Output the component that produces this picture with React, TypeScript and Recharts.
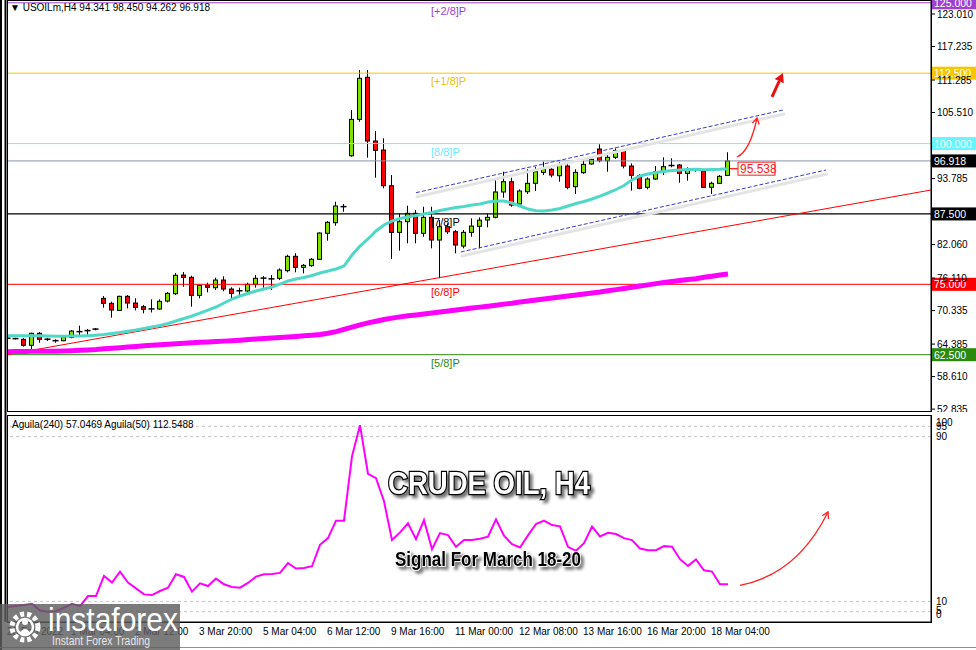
import React from 'react';
import { ComposedChart, Bar, Line, XAxis, YAxis, ReferenceLine } from 'recharts';

// USOILm H4, 91 bars (oldest first)
const opens = [
  65.42, 65.36, 65.23, 64.17, 66.3, 65.25, 64.99, 64.98, 65.58, 66.55,
  66.72, 66.95, 72.51, 71.62, 70.37, 72.87, 71.67, 71.02, 70.58, 70.61,
  72.03, 73.33, 76.65, 76.24, 73.04, 74.82, 74.4, 75.76, 74.16, 73.85,
  73.81, 75.0, 76.02, 75.92, 76.07, 77.42, 79.97, 78.02, 78.31, 79.44,
  84.06, 85.94, 88.75, 97.83, 104.3, 111.77, 100.45, 98.85, 92.51, 84.23,
  86.12, 87.61, 84.06, 86.9, 82.87, 85.23, 84.34, 81.8, 84.23, 85.3,
  86.42, 86.9, 91.4, 93.22, 89.26, 91.45, 92.94, 94.89, 95.43, 94.29,
  96.01, 92.34, 94.82, 96.37, 99.03, 96.95, 97.56, 98.73, 96.01, 94.29,
  92.23, 93.7, 95.0, 96.1, 96.19, 94.71, 95.33, 95.12, 92.23, 92.94,
  94.341,
];
const highs = [
  65.6, 65.5, 65.45, 66.4, 66.52, 65.51, 65.23, 65.75, 66.88, 67.65,
  67.06, 67.24, 72.92, 71.91, 72.97, 73.1, 72.51, 71.32, 72.33, 72.33,
  73.63, 77.01, 77.18, 76.53, 75.0, 75.29, 76.17, 76.42, 74.47, 74.4,
  75.29, 76.65, 76.47, 76.65, 77.84, 80.26, 80.51, 78.6, 79.67, 84.23,
  86.24, 89.67, 89.26, 105.96, 113.06, 113.06, 102.23, 100.93, 94.41, 87.61,
  88.96, 88.2, 88.78, 88.78, 86.42, 85.83, 84.64, 84.64, 86.72, 86.9,
  87.61, 93.52, 95.0, 93.93, 91.88, 95.43, 95.89, 96.79, 95.6, 96.67,
  96.67, 95.43, 97.38, 97.38, 99.87, 98.37, 99.15, 99.03, 96.49, 94.59,
  94.0, 96.01, 97.56, 97.38, 96.37, 95.78, 95.6, 95.43, 93.22, 94.41,
  98.45,
];
const lows = [
  65.2, 65.2, 63.95, 63.45, 64.63, 64.92, 64.63, 64.9, 65.41, 65.85,
  65.82, 66.83, 70.84, 69.07, 70.26, 70.73, 70.37, 69.85, 70.0, 70.49,
  71.8, 73.1, 74.57, 71.02, 72.51, 73.58, 74.0, 73.76, 72.44, 72.97,
  73.4, 74.4, 74.4, 73.99, 75.76, 77.13, 77.13, 76.95, 78.13, 79.32,
  82.75, 85.41, 87.9, 97.66, 103.88, 97.49, 93.93, 92.05, 79.49, 80.97,
  82.28, 82.28, 83.45, 81.39, 76.07, 83.93, 80.51, 81.39, 83.45, 81.39,
  85.12, 86.72, 90.38, 88.78, 88.96, 91.04, 91.57, 94.41, 94.0, 93.22,
  91.88, 91.04, 94.64, 96.25, 96.67, 95.0, 97.26, 95.6, 91.63, 91.88,
  91.88, 93.52, 94.41, 95.78, 93.04, 93.4, 95.0, 92.1, 91.04, 92.81,
  94.262,
];
const closes = [
  65.4, 65.33, 64.17, 66.3, 65.23, 65.2, 64.96, 65.64, 66.7, 66.6,
  66.78, 67.05, 71.62, 70.43, 72.87, 71.67, 70.91, 70.56, 70.63, 71.98,
  73.4, 76.6, 76.24, 73.04, 74.82, 74.47, 75.76, 74.16, 73.4, 73.78,
  75.0, 76.07, 76.1, 75.97, 77.54, 79.97, 78.02, 78.37, 79.44, 84.11,
  86.01, 88.91, 88.8, 104.3, 111.59, 100.45, 98.8, 92.51, 84.23, 86.12,
  87.61, 84.06, 86.9, 82.87, 85.23, 84.34, 81.98, 84.23, 85.35, 86.4,
  86.9, 91.4, 93.22, 89.08, 91.57, 92.94, 95.0, 95.43, 94.41, 96.19,
  92.23, 94.89, 96.31, 97.2, 96.95, 97.56, 98.73, 96.01, 94.36, 92.05,
  93.7, 95.0, 95.89, 96.04, 94.71, 95.3, 95.28, 92.23, 92.94, 94.18,
  96.918,
];

// cyan moving average
const maFast = [
  65.87, 65.87, 65.87, 65.87, 65.87, 65.82, 65.76, 65.76, 65.82, 65.82,
  65.87, 65.94, 66.08, 66.26, 66.44, 66.65, 66.88, 67.15, 67.41, 67.68,
  68.04, 68.48, 68.92, 69.37, 69.9, 70.43, 70.97, 71.68, 72.39, 72.92,
  73.37, 73.81, 74.16, 74.52, 75.05, 75.59, 75.94, 76.21, 76.56, 77.01,
  77.36, 77.72, 78.25, 80.2, 81.8, 83.05, 84.47, 85.53, 86.24, 86.69,
  86.95, 87.22, 87.49, 87.75, 88.11, 88.37, 88.64, 88.82, 89.08, 89.26,
  89.62, 89.8, 89.8, 89.44, 88.91, 88.37, 88.07, 88.02, 88.2, 88.46,
  88.91, 89.35, 89.71, 90.15, 90.68, 91.22, 91.84, 92.55, 93.53, 94.24,
  94.59, 94.86, 95.04, 95.21, 95.3, 95.39, 95.42, 95.35, 95.4, 95.45,
  95.54,
];

// thick magenta moving average
const maSlow = [
  63.03, 63.05, 63.07, 63.09, 63.11, 63.12, 63.13, 63.15, 63.2, 63.27,
  63.35, 63.42, 63.55, 63.65, 63.75, 63.85, 63.96, 64.07, 64.17, 64.27,
  64.36, 64.44, 64.52, 64.61, 64.7, 64.77, 64.84, 64.91, 64.98, 65.08,
  65.18, 65.29, 65.39, 65.48, 65.57, 65.66, 65.75, 65.85, 65.97, 66.1,
  66.3, 66.6, 67.0, 67.4, 67.8, 68.15, 68.45, 68.75, 69.0, 69.22,
  69.4, 69.55, 69.72, 69.9, 70.08, 70.27, 70.45, 70.62, 70.78, 70.95,
  71.12, 71.3, 71.48, 71.65, 71.86, 72.04, 72.22, 72.4, 72.58, 72.74,
  72.92, 73.1, 73.28, 73.45, 73.63, 73.85, 74.06, 74.27, 74.48, 74.7,
  74.9, 75.12, 75.32, 75.5, 75.68, 75.86, 76.0, 76.25, 76.45, 76.64,
  76.83,
];

// Aguila oscillator (lower panel)
const aguila = [
  7.23, 7.72, 8.21, 8.86, 5.61, 4.96, 5.28, 6.91, 8.86, 7.72,
  12.6, 12.6, 22.36, 19.11, 24.47, 19.11, 16.34, 13.41, 13.09, 15.04,
  16.67, 23.17, 21.87, 14.72, 18.78, 17.48, 21.06, 18.29, 16.99, 16.67,
  18.94, 22.03, 23.17, 23.33, 23.82, 28.54, 25.94, 26.26, 27.07, 37.48,
  40.73, 49.19, 49.19, 80.41, 95.53, 71.95, 69.84, 58.62, 39.76, 43.5,
  47.89, 40.24, 49.51, 35.37, 43.17, 42.2, 36.5, 39.76, 39.76, 40.41,
  41.38, 49.84, 41.87, 37.8, 36.18, 42.03, 47.56, 49.19, 47.07, 46.42,
  36.5, 34.55, 38.29, 46.26, 41.55, 43.33, 42.68, 40.73, 39.76, 35.69,
  34.88, 34.88, 36.83, 36.5, 30.49, 27.23, 30.33, 25.12, 24.47, 18.29,
  18.29,
];

const timeLabelBars = [0, 8, 16, 24, 32, 40, 48, 56, 64, 72, 80, 88];
const timeLabels = [
  '28 Feb 2022', '1 Mar 04:00', '2 Mar 12:00', '3 Mar 20:00', '5 Mar 04:00', '6 Mar 12:00',
  '9 Mar 16:00', '11 Mar 00:00', '12 Mar 08:00', '13 Mar 16:00', '16 Mar 20:00', '18 Mar 04:00',
];

const priceTicks = [123.01, 117.235, 111.285, 105.51, 93.785, 82.06, 76.11, 70.335, 64.385, 58.61, 52.835];
const murreyPrices = [125, 112.5, 100, 87.5, 75, 62.5];
const murreyNames = ['[+2/8]P', '[+1/8]P', '[8/8]P', '[7/8]P', '[6/8]P', '[5/8]P'];
const lastPrice = 96.918;
const maFastLast = 95.538;

const trendLine = [{ bar: 0, price: 62.53 }, { bar: 115.375, price: 91.75 }];
const channelTop = [{ bar: 51, price: 91.27 }, { bar: 96.875, price: 105.96 }];
const channelBottom = [{ bar: 56.6, price: 80.74 }, { bar: 102.25, price: 95.3 }];
const arrowSmall = [{ bar: 91.125, price: 97.61 }, { bar: 93.625, price: 104.54 }];
const arrowBig = [{ bar: 95.5, price: 108.27 }, { bar: 96.875, price: 112.53 }];
const arrowAguila = [{ bar: 91.5, value: 17.8 }, { bar: 102.5, value: 53.4 }];
const aguilaLevels = [95, 90, 10, 5];
const aguilaTicks = [0, 5, 10, 90, 95, 100];

// styling
const FONT = '"Liberation Sans", Arial, sans-serif';
const BULL = '#80e000';
const BEAR = '#ff0000';
const LEVEL_COLORS = ['#a040d0', '#f7c600', '#66f4ff', '#000000', '#ff0000', '#2b8a0e'];
const LEVEL_TEXT = ['#a040d0', '#f0c000', '#70e8ff', '#000000', '#ff0000', '#2b8a0e'];
const X_DOMAIN: [number, number] = [0, 115.375];
const PRICE_DOMAIN: [number, number] = [52.5, 125.32];

const rows = opens.map((o, i) => ({
  i,
  open: o,
  high: highs[i],
  low: lows[i],
  close: closes[i],
  maFast: maFast[i],
  maSlow: maSlow[i],
  aguila: aguila[i],
}));

function Candle(props: any) {
  const { x, y, width, height, payload } = props;
  if (!payload || x == null || y == null) return null;
  const cx = Math.floor(x + width / 2) + 0.5;
  const span = payload.high - payload.low;
  const k = span > 0 ? height / span : 0;
  const yOpen = y + (payload.high - payload.open) * k;
  const yClose = y + (payload.high - payload.close) * k;
  const top = Math.min(yOpen, yClose);
  const body = Math.abs(yOpen - yClose);
  const up = payload.close >= payload.open;
  return (
    <g>
      <line x1={cx} y1={y} x2={cx} y2={y + height} stroke="#000" strokeWidth={1} />
      {body < 1.5 ? (
        <line x1={cx - 3} y1={top} x2={cx + 3} y2={top} stroke="#000" strokeWidth={1.5} />
      ) : (
        <rect x={cx - 2} y={top} width={4} height={body} fill={up ? BULL : BEAR} stroke="#000" strokeWidth={1} />
      )}
    </g>
  );
}

function LevelLabel(props: any) {
  const { viewBox, name, tag, color, textColor, tagBg, tagFg } = props;
  if (!viewBox) return null;
  const { x, y, width } = viewBox;
  return (
    <g fontFamily={FONT}>
      {name ? (
        <text x={x + 423} y={y + 12} fill={textColor || color} fontSize={11}>
          {name}
        </text>
      ) : null}
      <rect x={x + width + 1} y={y - 6.5} width={44} height={13} fill={tagBg} />
      <text x={x + width + 3} y={y + 4} fill={tagFg} fontSize={10.5}>
        {tag}
      </text>
    </g>
  );
}

function ChannelLine(props: any) {
  const { x1, y1, x2, y2 } = props;
  return (
    <g>
      <line x1={x1 + 1} y1={y1 + 4} x2={x2 + 1} y2={y2 + 4} stroke="#e4e4e4" strokeWidth={3} strokeLinecap="round" />
      <line x1={x1} y1={y1} x2={x2} y2={y2} stroke="#3a3ad8" strokeWidth={1} strokeDasharray="4 2" />
    </g>
  );
}

function CurvedArrow(props: any) {
  const { x1, y1, x2, y2 } = props;
  const dx = x2 - x1;
  const dy = y2 - y1;
  const qx = x1 + dx * 0.65;
  const qy = y1 + dy * 0.15;
  const tx = x2 - qx;
  const ty = y2 - qy;
  const len = Math.hypot(tx, ty) || 1;
  const ux = tx / len;
  const uy = ty / len;
  const h = 7;
  const a1x = x2 - h * (ux * 0.85 - uy * 0.5);
  const a1y = y2 - h * (uy * 0.85 + ux * 0.5);
  const a2x = x2 - h * (ux * 0.85 + uy * 0.5);
  const a2y = y2 - h * (uy * 0.85 - ux * 0.5);
  return (
    <g fill="none" stroke="#ff2020" strokeWidth={1.3}>
      <path d={`M${x1},${y1} Q${qx},${qy} ${x2},${y2}`} />
      <path d={`M${a1x},${a1y} L${x2},${y2} L${a2x},${a2y}`} />
    </g>
  );
}

function BoldArrow(props: any) {
  const { x1, y1, x2, y2 } = props;
  const len = Math.hypot(x2 - x1, y2 - y1) || 1;
  const ux = (x2 - x1) / len;
  const uy = (y2 - y1) / len;
  const bx = x2 - ux * 9;
  const by = y2 - uy * 9;
  return (
    <g>
      <line x1={x1} y1={y1} x2={bx} y2={by} stroke="#e81010" strokeWidth={3} />
      <path d={`M${x2},${y2} L${bx - uy * 5},${by + ux * 5} L${bx + uy * 5},${by - ux * 5} Z`} fill="#e81010" />
    </g>
  );
}

function ValueBox(props: any) {
  const { x1, y1, x2 } = props;
  return (
    <g fontFamily={FONT}>
      <line x1={x1} y1={y1} x2={x2} y2={y1} stroke="#ff2020" strokeWidth={1.3} />
      <rect x={x2} y={y1 - 6.5} width={37} height={13} fill="#fff" stroke="#ff2020" strokeWidth={1} />
      <text x={x2 + 2} y={y1 + 4.5} fill="#ff2020" fontSize={12}>
        {maFastLast.toFixed(3)}
      </text>
    </g>
  );
}

function TimeTick(props: any) {
  const { x, y, index } = props;
  return (
    <text x={x - 1} y={y + 13} fontSize={10} fontFamily={FONT} fill="#000" textAnchor="start">
      {timeLabels[index]}
    </text>
  );
}

function AguilaTick(props: any) {
  const { x, y, payload } = props;
  const v = payload.value;
  const nudge = v === 100 ? 6 : v === 0 ? -8 : v === 5 ? -1 : 0;
  return (
    <text x={x + 3} y={y + nudge + 3.5} fontSize={10} fontFamily={FONT} fill="#000">
      {v}
    </text>
  );
}

function PriceChart() {
  return (
    <ComposedChart width={976} height={412} data={rows} margin={{ top: 1, right: 0, bottom: 1, left: 8 }}>
      <XAxis type="number" dataKey="i" domain={X_DOMAIN} hide allowDataOverflow />
      <YAxis
        orientation="right"
        domain={PRICE_DOMAIN}
        ticks={priceTicks}
        interval={0}
        width={45}
        allowDataOverflow
        tickSize={4}
        tickMargin={2}
        tickFormatter={(v: number) => v.toFixed(3)}
        tick={{ fontSize: 10, fill: '#000', fontFamily: FONT }}
        axisLine={{ stroke: '#000' }}
        tickLine={{ stroke: '#000' }}
      />
      <ReferenceLine
        y={lastPrice}
        stroke="#8896a8"
        label={<LevelLabel tag={lastPrice.toFixed(3)} tagBg="#000" tagFg="#fff" />}
      />
      {murreyPrices.map((p, k) => (
        <ReferenceLine
          key={p}
          y={p}
          stroke={LEVEL_COLORS[k]}
          strokeWidth={k === 3 ? 1.2 : 1}
          label={
            <LevelLabel
              name={murreyNames[k]}
              tag={p.toFixed(3)}
              color={LEVEL_COLORS[k]}
              textColor={LEVEL_TEXT[k]}
              tagBg={LEVEL_COLORS[k]}
              tagFg="#fff"
            />
          }
        />
      ))}
      <ReferenceLine
        segment={trendLine.map((p) => ({ x: p.bar, y: p.price }))}
        stroke="#ff0000"
        strokeWidth={1}
        ifOverflow="visible"
      />
      <ReferenceLine segment={channelTop.map((p) => ({ x: p.bar, y: p.price }))} shape={ChannelLine} ifOverflow="visible" />
      <ReferenceLine segment={channelBottom.map((p) => ({ x: p.bar, y: p.price }))} shape={ChannelLine} ifOverflow="visible" />
      <Line dataKey="maSlow" stroke="#ff00ff" strokeWidth={5} dot={false} isAnimationActive={false} />
      <Line dataKey="maFast" stroke="#4fd8c8" strokeWidth={3} dot={false} isAnimationActive={false} />
      <Bar
        dataKey={(d: any) => [d.low, d.high]}
        barSize={5}
        shape={<Candle />}
        isAnimationActive={false}
      />
      <ReferenceLine
        segment={[{ x: 90.25, y: maFastLast }, { x: 91.25, y: maFastLast }]}
        shape={ValueBox}
        ifOverflow="visible"
      />
      <ReferenceLine segment={arrowSmall.map((p) => ({ x: p.bar, y: p.price }))} shape={CurvedArrow} ifOverflow="visible" />
      <ReferenceLine segment={arrowBig.map((p) => ({ x: p.bar, y: p.price }))} shape={BoldArrow} ifOverflow="visible" />
    </ComposedChart>
  );
}

function AguilaChart() {
  return (
    <ComposedChart width={976} height={236} data={rows} margin={{ top: 2, right: 0, bottom: 0, left: 8 }}>
      <XAxis
        type="number"
        dataKey="i"
        domain={X_DOMAIN}
        ticks={timeLabelBars}
        interval={0}
        allowDataOverflow
        height={28}
        tickSize={0}
        tickMargin={0}
        tickLine={false}
        tick={<TimeTick />}
        axisLine={{ stroke: '#000' }}
      />
      <YAxis
        orientation="right"
        domain={[0, 100]}
        ticks={aguilaTicks}
        interval={0}
        width={45}
        tickLine={false}
        tickSize={0}
        tick={<AguilaTick />}
        axisLine={{ stroke: '#000' }}
      />
      {aguilaLevels.map((v) => (
        <ReferenceLine key={v} y={v} stroke="#c4c4c4" strokeDasharray="3 3" />
      ))}
      <Line dataKey="aguila" stroke="#ff00ff" strokeWidth={2} dot={false} isAnimationActive={false} />
      <ReferenceLine segment={arrowAguila.map((p) => ({ x: p.bar, y: p.value }))} shape={CurvedArrow} ifOverflow="visible" />
    </ComposedChart>
  );
}

function Overlay() {
  return (
    <svg width={976} height={650} style={{ position: 'absolute', left: 0, top: 0, pointerEvents: 'none' }}>
      <defs>
        <filter id="dropShadow" x="-10%" y="-30%" width="130%" height="170%">
          <feDropShadow dx={3} dy={3} stdDeviation={1.5} floodColor="#000" floodOpacity={0.55} />
        </filter>
      </defs>
      {/* frames */}
      <rect x={0} y={0} width={2} height={650} fill="#000" />
      <rect x={4.5} y={0} width={2} height={622} fill="#000" />
      <rect x={7.5} y={0.5} width={924} height={411} fill="none" stroke="#000" />
      <rect x={7.5} y={415.5} width={924} height={207} fill="none" stroke="#000" />
      <line x1={0} y1={647.5} x2={976} y2={647.5} stroke="#909090" />

      <text x={10} y={11} fontSize={10} fontFamily={FONT} fill="#000">
        {'\u25BC USOILm,H4  94.341 98.450 94.262 96.918'}
      </text>
      <text x={12} y={428} fontSize={10} fontFamily={FONT} fill="#000">
        Aguila(240) 57.0469  Aguila(50) 112.5488
      </text>

      <g filter="url(#dropShadow)">
        <text
          x={388}
          y={494}
          fontSize={32}
          fontWeight="bold"
          fontFamily={FONT}
          textLength={202}
          lengthAdjust="spacingAndGlyphs"
          fill="#fff"
          stroke="#000"
          strokeWidth={2.5}
          paintOrder="stroke"
        >
          CRUDE OIL, H4
        </text>
        <text
          x={395}
          y={566}
          fontSize={21}
          fontWeight="bold"
          fontFamily={FONT}
          textLength={186}
          lengthAdjust="spacingAndGlyphs"
          fill="#000"
          stroke="#fff"
          strokeWidth={1.5}
          paintOrder="stroke"
        >
          Signal For March 18-20
        </text>
      </g>

      {/* watermark */}
      <rect x={0} y={604} width={180} height={46} fill="#5e5e5e" opacity={0.82} />
      <circle cx={25} cy={627} r={13} fill="none" stroke="#fff" strokeWidth={5} strokeDasharray="4 3" />
      <circle cx={25} cy={627} r={8} fill="none" stroke="#fff" strokeWidth={2.5} />
      <circle cx={25} cy={622} r={3} fill="#fff" />
      <path d="M19,634 Q25,624 31,634 Z" fill="#fff" />
      <text x={48} y={631} fontSize={33} fontFamily={FONT} fill="#fff" textLength={130} lengthAdjust="spacingAndGlyphs">
        instaforex
      </text>
      <text x={52} y={645} fontSize={12} fontFamily={FONT} fill="#e6e6e6" textLength={98} lengthAdjust="spacingAndGlyphs">
        Instant Forex Trading
      </text>
    </svg>
  );
}

export default function App() {
  return (
    <div style={{ position: 'absolute', left: 0, top: 0, width: 976, height: 650, background: '#fff', overflow: 'hidden' }}>
      <div style={{ position: 'absolute', left: 0, top: 0 }}>
        <PriceChart />
      </div>
      <div style={{ position: 'absolute', left: 0, top: 414 }}>
        <AguilaChart />
      </div>
      <Overlay />
    </div>
  );
}
